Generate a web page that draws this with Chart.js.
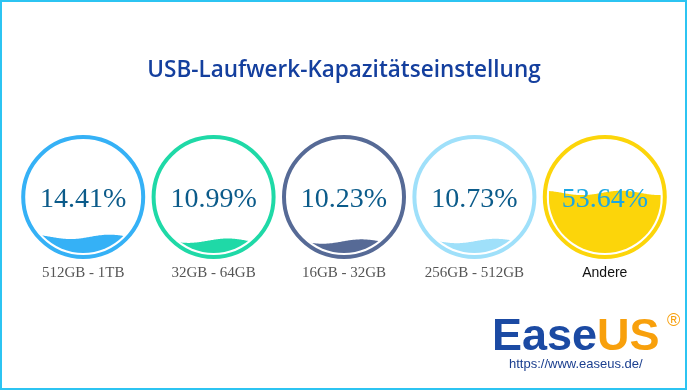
<!DOCTYPE html>
<html lang="de">
<head>
    <meta charset="UTF-8">
    <title>USB-Laufwerk-Kapazitätseinstellung</title>
    <style>
        body {
            margin: 0;
            background: #ffffff;
        }
        canvas {
            display: block;
        }
    </style>
</head>
<body>
    <canvas id="grafico" width="687" height="390"></canvas>

    <script src="https://cdn.jsdelivr.net/npm/chart.js"></script>
    <script>
        // data
        const categorias = ['512GB - 1TB', '32GB - 64GB', '16GB - 32GB', '256GB - 512GB', 'Andere'];
        const anteile = [14.41, 10.99, 10.23, 10.73, 53.64];

        // styles per gauge
        const farben = ['#35b1f6', '#1fd9a7', '#566a96', '#9fe0fa', '#fcd50a'];
        const textFarben = ['#0b5b8a', '#0b5b8a', '#0b5b8a', '#0b5b8a', '#1ba6e3'];
        const wellenPhase = [2.6, 3.6, 3.3, 3.0, 3.4];

        const liquidPlugin = {
            id: 'liquid',
            beforeDraw(chart) {
                const ctx = chart.ctx;
                ctx.save();
                ctx.fillStyle = '#ffffff';
                ctx.fillRect(0, 0, chart.width, chart.height);
                ctx.strokeStyle = '#2cc4f2';
                ctx.lineWidth = 2;
                ctx.strokeRect(1, 1, chart.width - 2, chart.height - 2);
                ctx.restore();
            },
            afterDatasetsDraw(chart) {
                const ctx = chart.ctx;
                const area = chart.chartArea;
                const cy = (area.top + area.bottom) / 2;
                const r = (area.bottom - area.top) / 2;
                const meta = chart.getDatasetMeta(0);

                meta.data.forEach((bar, i) => {
                    const cx = bar.x;
                    const level = bar.y;

                    // ring
                    ctx.save();
                    ctx.beginPath();
                    ctx.arc(cx, cy, r + 4, 0, Math.PI * 2);
                    ctx.strokeStyle = farben[i];
                    ctx.lineWidth = 4;
                    ctx.stroke();

                    // wave
                    ctx.beginPath();
                    ctx.arc(cx, cy, r, 0, Math.PI * 2);
                    ctx.clip();
                    ctx.beginPath();
                    ctx.moveTo(cx - r, area.bottom + 2);
                    for (let x = cx - r; x <= cx + r; x++) {
                        const y = level + 2.2 * Math.sin((x - cx) / 78 * Math.PI * 2 + wellenPhase[i]);
                        ctx.lineTo(x, y);
                    }
                    ctx.lineTo(cx + r, area.bottom + 2);
                    ctx.closePath();
                    ctx.fillStyle = farben[i];
                    ctx.fill();
                    ctx.restore();

                    // percent
                    ctx.save();
                    ctx.font = '28px "Liberation Serif", "Times New Roman", serif';
                    ctx.textAlign = 'center';
                    ctx.textBaseline = 'alphabetic';
                    ctx.fillStyle = textFarben[i];
                    ctx.fillText(chart.data.datasets[0].data[i].toFixed(2) + '%', cx, cy + 10);

                    // category label
                    if (i === categorias.length - 1) {
                        ctx.font = '14px "Liberation Sans", Arial, sans-serif';
                        ctx.fillStyle = '#111111';
                    } else {
                        ctx.font = '15px "Liberation Serif", "Times New Roman", serif';
                        ctx.fillStyle = '#555555';
                    }
                    ctx.fillText(chart.data.labels[i], cx, 277);
                    ctx.restore();
                });

                // logo
                ctx.save();
                ctx.textBaseline = 'alphabetic';
                ctx.textAlign = 'left';
                ctx.font = 'bold 45px "Liberation Sans", Arial, sans-serif';
                ctx.fillStyle = '#1b4aa3';
                ctx.fillText('Ease', 492, 350);
                const w = ctx.measureText('Ease').width;
                ctx.fillStyle = '#f8a00c';
                ctx.fillText('US', 492 + w, 350);
                ctx.font = '18px "Liberation Sans", Arial, sans-serif';
                ctx.fillText('®', 667, 326);
                ctx.font = '13px "Liberation Sans", Arial, sans-serif';
                ctx.fillStyle = '#1b3f8f';
                ctx.fillText('https://www.easeus.de/', 509, 368);
                ctx.restore();
            }
        };

        new Chart(document.getElementById('grafico'), {
            type: 'bar',
            data: {
                labels: categorias,
                datasets: [{
                    data: anteile,
                    backgroundColor: 'rgba(0,0,0,0)',
                    borderWidth: 0
                }]
            },
            options: {
                responsive: false,
                animation: false,
                devicePixelRatio: 1,
                layout: {
                    padding: { left: 18, right: 17, top: 0, bottom: 137 }
                },
                scales: {
                    x: { display: false },
                    y: { display: false, min: 0, max: 100 }
                },
                plugins: {
                    legend: { display: false },
                    tooltip: { enabled: false },
                    title: {
                        display: true,
                        text: 'USB-Laufwerk-Kapazitätseinstellung',
                        color: '#143f9e',
                        font: { family: '"Open Sans"', size: 22.5, weight: '600', lineHeight: 1.2 },
                        padding: { top: 57, bottom: 57 }
                    }
                }
            },
            plugins: [liquidPlugin]
        });
    </script>
</body>
</html>
